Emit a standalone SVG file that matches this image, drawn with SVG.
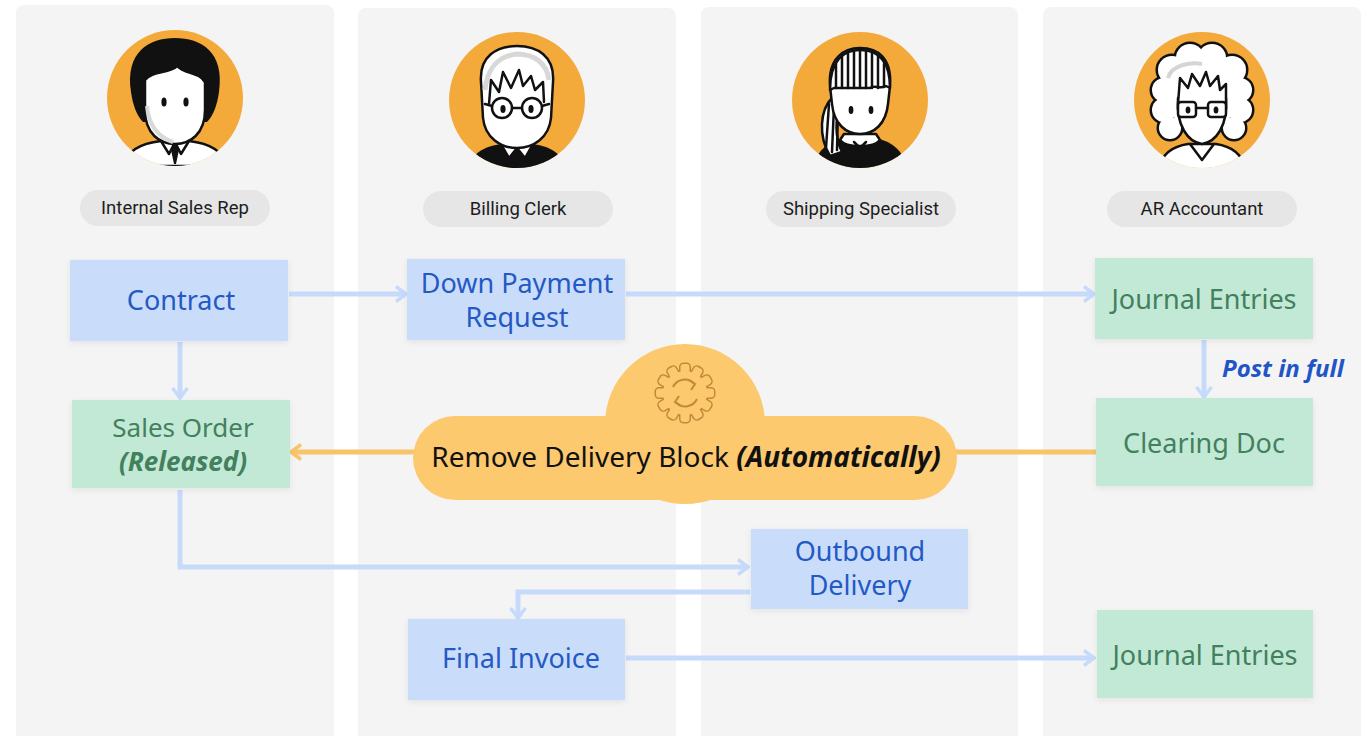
<svg xmlns="http://www.w3.org/2000/svg" width="1369" height="736" viewBox="0 0 1369 736">
  <style>
    .lane { fill: #f4f4f4; }
    .avatar-bg { fill: #f4a93b; }
    .ink { stroke: #111; stroke-width: 2.5; stroke-linejoin: round; stroke-linecap: round; }
    .role { fill: #e6e6e6; }
    .role-text { font-family: Roboto, "Noto Sans", sans-serif; font-size: 18.5px; fill: #1d1d1d; text-anchor: middle; }
    .doc-blue { fill: #c9ddfb; filter: url(#shadow); }
    .doc-green { fill: #c2e9d5; filter: url(#shadow); }
    .t { font-family: "Noto Sans", "Open Sans", sans-serif; font-size: 27px; text-anchor: middle; }
    .t-blue { fill: #2459c4; }
    .t-green { fill: #43805e; }
    .em { font-weight: bold; font-style: italic; }
    .note { font-family: "Noto Sans", "Open Sans", sans-serif; font-size: 24px; font-weight: bold; font-style: italic; fill: #1f55c6; text-anchor: start; }
    .flow { fill: none; stroke: #c6dafc; stroke-width: 5; marker-end: url(#arrow-blue); }
    .flow-auto { fill: none; stroke: #f7c46c; stroke-width: 5; marker-end: url(#arrow-orange); }
  </style>
  <defs>
    <filter id="shadow" x="-10%" y="-10%" width="120%" height="130%">
      <feDropShadow dx="0" dy="2" stdDeviation="3" flood-color="#000" flood-opacity="0.07"/>
    </filter>
    <marker id="arrow-blue" viewBox="0 0 14 18" refX="10" refY="9" markerWidth="14" markerHeight="18" orient="auto" markerUnits="userSpaceOnUse">
      <path d="M2,1.5 L12,9 L2,16.5" fill="none" stroke="#c6dafc" stroke-width="3.5" stroke-linejoin="miter"/>
    </marker>
    <marker id="arrow-orange" viewBox="0 0 14 18" refX="10" refY="9" markerWidth="14" markerHeight="18" orient="auto" markerUnits="userSpaceOnUse">
      <path d="M2,1.5 L12,9 L2,16.5" fill="none" stroke="#f7c46c" stroke-width="3.5" stroke-linejoin="miter"/>
    </marker>
    <clipPath id="disc"><circle cx="0" cy="0" r="68"/></clipPath>
    <g id="gear-body">
      <circle r="22"/>
      <rect x="-4.5" y="-29" width="9" height="12" rx="3"/>
      <rect x="-4.5" y="-29" width="9" height="12" rx="3" transform="rotate(30)"/>
      <rect x="-4.5" y="-29" width="9" height="12" rx="3" transform="rotate(60)"/>
      <rect x="-4.5" y="-29" width="9" height="12" rx="3" transform="rotate(90)"/>
      <rect x="-4.5" y="-29" width="9" height="12" rx="3" transform="rotate(120)"/>
      <rect x="-4.5" y="-29" width="9" height="12" rx="3" transform="rotate(150)"/>
      <rect x="-4.5" y="-29" width="9" height="12" rx="3" transform="rotate(180)"/>
      <rect x="-4.5" y="-29" width="9" height="12" rx="3" transform="rotate(210)"/>
      <rect x="-4.5" y="-29" width="9" height="12" rx="3" transform="rotate(240)"/>
      <rect x="-4.5" y="-29" width="9" height="12" rx="3" transform="rotate(270)"/>
      <rect x="-4.5" y="-29" width="9" height="12" rx="3" transform="rotate(300)"/>
      <rect x="-4.5" y="-29" width="9" height="12" rx="3" transform="rotate(330)"/>
    </g>
  </defs>

  <rect width="1369" height="736" fill="#ffffff"/>

  <!-- swimlanes -->
  <g id="lanes">
    <rect class="lane" x="16" y="5" width="318" height="740" rx="8"/>
    <rect class="lane" x="358" y="8" width="318" height="740" rx="8"/>
    <rect class="lane" x="701" y="7" width="317" height="740" rx="8"/>
    <rect class="lane" x="1043" y="7" width="318" height="740" rx="8"/>
  </g>

  <!-- role: internal sales rep -->
  <g id="role-internal-sales-rep">
    <g transform="translate(175,98)">
      <circle class="avatar-bg" r="68"/>
      <g clip-path="url(#disc)">
        <path d="M-52,68 C-48,52 -32,45 -14,43 L14,43 C32,45 48,52 52,68 Z" fill="#fff" class="ink" stroke-width="3"/>
        <path d="M-14,43 L-6,56 L0,44 L6,56 L14,43" fill="none" class="ink"/>
        <path d="M0,46 L-4,52 L-1,66 L1,66 L4,52 Z" fill="#111"/>
        <path d="M-44,-6 C-50,-46 -26,-60 0,-60 C26,-60 50,-46 44,-6 C42,8 38,18 32,24 L-32,24 C-38,18 -42,8 -44,-6 Z" fill="#111"/>
        <path d="M-30,-18 C-22,-28 -6,-24 2,-32 C10,-24 24,-26 30,-16 L30,12 C30,36 15,46 0,46 C-15,46 -30,36 -30,12 Z" fill="#fff" class="ink"/>
        <path d="M-28,8 C-26,30 -14,40 -2,44" fill="none" stroke="#d9d9d9" stroke-width="4"/>
        <ellipse cx="-11" cy="4" rx="2.6" ry="4.5" fill="#111"/>
        <ellipse cx="11" cy="4" rx="2.6" ry="4.5" fill="#111"/>
      </g>
    </g>
    <rect class="role" x="80" y="190" width="190" height="36" rx="18"/>
    <text class="role-text" x="175" y="214">Internal Sales Rep</text>
  </g>

  <!-- role: billing clerk -->
  <g id="role-billing-clerk">
    <g transform="translate(517,100)">
      <circle class="avatar-bg" r="68"/>
      <g clip-path="url(#disc)">
        <path d="M-50,70 C-46,52 -30,46 -16,44 L16,44 C30,46 46,52 50,70 Z" fill="#111"/>
        <path d="M-16,44 L-8,58 L0,48 L8,58 L16,44" fill="#fff" class="ink" stroke-width="2"/>
        <path d="M-36,-18 C-38,-44 -20,-54 0,-54 C20,-54 38,-44 36,-18 L34,18 C32,38 16,48 0,48 C-16,48 -32,38 -34,18 Z" fill="#fff" class="ink" stroke-width="3"/>
        <path d="M-32,-10 C-30,-30 -20,-44 0,-46 C18,-46 30,-36 32,-20" fill="none" stroke="#d8d8d8" stroke-width="5"/>
        <path d="M-28,4 L-26,-20 L-18,-8 L-14,-28 L-6,-12 L2,-30 L6,-14 L14,-24 L18,-10 L26,-18 L27,2" fill="none" class="ink" stroke-width="2"/>
        <circle cx="-15" cy="8" r="10" fill="#fff" class="ink" stroke-width="2.2"/>
        <circle cx="15" cy="8" r="10" fill="#fff" class="ink" stroke-width="2.2"/>
        <path d="M-5,8 L5,8 M-25,6 L-32,4 M25,6 L32,4" class="ink" stroke-width="2"/>
        <ellipse cx="-14" cy="9" rx="2.6" ry="4" fill="#111"/>
        <ellipse cx="14" cy="9" rx="2.6" ry="4" fill="#111"/>
      </g>
    </g>
    <rect class="role" x="423" y="191" width="190" height="36" rx="18"/>
    <text class="role-text" x="518" y="215">Billing Clerk</text>
  </g>

  <!-- role: shipping specialist -->
  <g id="role-shipping-specialist">
    <g transform="translate(860,100)">
      <circle class="avatar-bg" r="68"/>
      <g clip-path="url(#disc)">
        <path d="M-48,70 C-44,50 -30,40 -14,38 L14,38 C30,40 44,50 48,70 Z" fill="#111"/>
        <path d="M-20,40 C-14,48 14,48 20,40 L16,34 L-16,34 Z" fill="#fff" class="ink" stroke-width="2"/>
        <path d="M-6,42 L0,48 L6,42" fill="none" class="ink" stroke-width="1.5"/>
        <circle cx="0" cy="48" r="2.5" fill="#111"/>
        <path d="M-28,-2 C-40,10 -42,36 -30,56 L-18,52 C-26,36 -24,18 -20,6 Z" fill="#fff" class="ink" stroke-width="2.5"/>
        <path d="M-31,4 L-34,48 M-26,6 L-28,52 M-22,8 L-23,50" class="ink" stroke-width="1.4"/>
        <path d="M-30,-14 C-32,-42 -16,-52 0,-52 C18,-52 32,-42 30,-14 L28,4 C26,24 14,34 0,34 C-14,34 -26,24 -28,4 Z" fill="#fff" class="ink" stroke-width="2.8"/>
        <path d="M-30,-10 C-30,-40 -16,-50 0,-50 C18,-50 30,-40 30,-12 L26,-14 C20,-10 14,-16 10,-12 L-26,-12 Z" fill="#fff" class="ink" stroke-width="2.5"/>
        <path d="M-24,-12 L-24,-36 M-18,-12 L-18,-44 M-12,-12 L-12,-47 M-6,-12 L-6,-49 M0,-12 L0,-50 M6,-12 L6,-49 M12,-12 L12,-47 M18,-12 L18,-44 M24,-14 L24,-36" class="ink" stroke-width="1.6"/>
        <ellipse cx="-9" cy="10" rx="2.4" ry="4" fill="#111"/>
        <ellipse cx="11" cy="10" rx="2.4" ry="4" fill="#111"/>
      </g>
    </g>
    <rect class="role" x="766" y="191" width="190" height="36" rx="18"/>
    <text class="role-text" x="861" y="215">Shipping Specialist</text>
  </g>

  <!-- role: AR accountant -->
  <g id="role-ar-accountant">
    <g transform="translate(1202,100)">
      <circle class="avatar-bg" r="68"/>
      <g clip-path="url(#disc)">
        <path d="M-44,70 C-40,52 -28,46 -14,44 L14,44 C28,46 40,52 44,70 Z" fill="#fff" class="ink" stroke-width="3"/>
        <path d="M-12,44 L0,60 L12,44" fill="none" class="ink" stroke-width="2"/>
        <g fill="#fff" stroke="#111" stroke-width="5">
          <circle cx="-30" cy="-30" r="14"/><circle cx="-12" cy="-42" r="14"/><circle cx="10" cy="-42" r="14"/>
          <circle cx="30" cy="-30" r="14"/><circle cx="38" cy="-10" r="12"/><circle cx="38" cy="10" r="12"/>
          <circle cx="32" cy="28" r="11"/><circle cx="-38" cy="-10" r="12"/><circle cx="-38" cy="10" r="12"/>
          <circle cx="-32" cy="28" r="11"/>
        </g>
        <g fill="#fff">
          <circle cx="-30" cy="-30" r="14"/><circle cx="-12" cy="-42" r="14"/><circle cx="10" cy="-42" r="14"/>
          <circle cx="30" cy="-30" r="14"/><circle cx="38" cy="-10" r="12"/><circle cx="38" cy="10" r="12"/>
          <circle cx="32" cy="28" r="11"/><circle cx="-38" cy="-10" r="12"/><circle cx="-38" cy="10" r="12"/>
          <circle cx="-32" cy="28" r="11"/><circle cx="0" cy="-5" r="36"/>
        </g>
        <path d="M-34,-22 C-30,-36 -10,-38 0,-36" fill="none" stroke="#d5d5d5" stroke-width="4"/>
        <path d="M-24,-2 C-26,26 -14,42 0,44 C14,42 26,26 24,-2" fill="#fff" class="ink" stroke-width="2.5"/>
        <path d="M-24,4 L-22,-22 L-14,-12 L-10,-26 L-2,-14 L4,-28 L8,-14 L16,-24 L18,-10 L24,-16 L24,4" fill="#fff" class="ink" stroke-width="2"/>
        <rect x="-24" y="2" width="18" height="15" rx="3" fill="#fff" class="ink" stroke-width="2.2"/>
        <rect x="6" y="2" width="18" height="15" rx="3" fill="#fff" class="ink" stroke-width="2.2"/>
        <path d="M-6,8 L6,8" class="ink" stroke-width="2"/>
        <ellipse cx="-14" cy="10" rx="2.4" ry="3.6" fill="#111"/>
        <ellipse cx="14" cy="10" rx="2.4" ry="3.6" fill="#111"/>
      </g>
    </g>
    <rect class="role" x="1107" y="191" width="190" height="36" rx="18"/>
    <text class="role-text" x="1202" y="215">AR Accountant</text>
  </g>

  <!-- connectors -->
  <g id="connectors">
    <path class="flow" d="M289,294 H404"/>
    <path class="flow" d="M626,294 H1092"/>
    <path class="flow" d="M180,342 V396"/>
    <path class="flow" d="M1204,340 V395"/>
    <path class="flow-auto" d="M1096,452 H293"/>
    <path class="flow" d="M180,490 V567 H746"/>
    <path class="flow" d="M750,592 H518 V616"/>
    <path class="flow" d="M626,658 H1092"/>
    <text class="note" x="1222" y="377">Post in full</text>
  </g>

  <!-- automatic step -->
  <g id="remove-delivery-block">
    <circle cx="685" cy="424" r="80" fill="#fcc96f"/>
    <rect x="413" y="416" width="544" height="84" rx="42" fill="#fcc96f"/>
    <g transform="translate(685,393)">
      <use href="#gear-body" fill="#fcc96f" stroke="#c4883a" stroke-width="3"/>
      <use href="#gear-body" fill="#fcc96f"/>
      <path d="M-12,-6 A13,13 0 0 1 9,-9.5" fill="none" stroke="#c4883a" stroke-width="2"/>
      <path d="M4,-13 L10,-9 L6,-3" fill="none" stroke="#c4883a" stroke-width="2"/>
      <path d="M12,6 A13,13 0 0 1 -9,9.5" fill="none" stroke="#c4883a" stroke-width="2"/>
      <path d="M-4,13 L-10,9 L-6,3" fill="none" stroke="#c4883a" stroke-width="2"/>
    </g>
    <text class="t" x="686" y="467" fill="#111" style="font-size:28px">Remove Delivery Block <tspan class="em">(Automatically)</tspan></text>
  </g>

  <!-- documents -->
  <g id="contract">
    <rect class="doc-blue" x="70" y="260" width="218" height="81"/>
    <text class="t t-blue" x="181" y="310">Contract</text>
  </g>
  <g id="down-payment-request">
    <rect class="doc-blue" x="407" y="259" width="218" height="81"/>
    <text class="t t-blue" x="517" y="293">Down Payment</text>
    <text class="t t-blue" x="517" y="327">Request</text>
  </g>
  <g id="journal-entries-dp">
    <rect class="doc-green" x="1095" y="258" width="218" height="81"/>
    <text class="t t-green" x="1204" y="309">Journal Entries</text>
  </g>
  <g id="sales-order">
    <rect class="doc-green" x="72" y="400" width="218" height="88"/>
    <text class="t t-green" x="183" y="437" style="font-size:26px">Sales Order</text>
    <text class="t t-green em" x="183" y="471" style="font-size:26px">(Released)</text>
  </g>
  <g id="clearing-doc">
    <rect class="doc-green" x="1096" y="398" width="217" height="88"/>
    <text class="t t-green" x="1204" y="453">Clearing Doc</text>
  </g>
  <g id="outbound-delivery">
    <rect class="doc-blue" x="751" y="529" width="217" height="80"/>
    <text class="t t-blue" x="860" y="561">Outbound</text>
    <text class="t t-blue" x="860" y="595">Delivery</text>
  </g>
  <g id="final-invoice">
    <rect class="doc-blue" x="408" y="619" width="217" height="81"/>
    <text class="t t-blue" x="521" y="668">Final Invoice</text>
  </g>
  <g id="journal-entries-final">
    <rect class="doc-green" x="1097" y="610" width="216" height="88"/>
    <text class="t t-green" x="1205" y="665">Journal Entries</text>
  </g>
</svg>
